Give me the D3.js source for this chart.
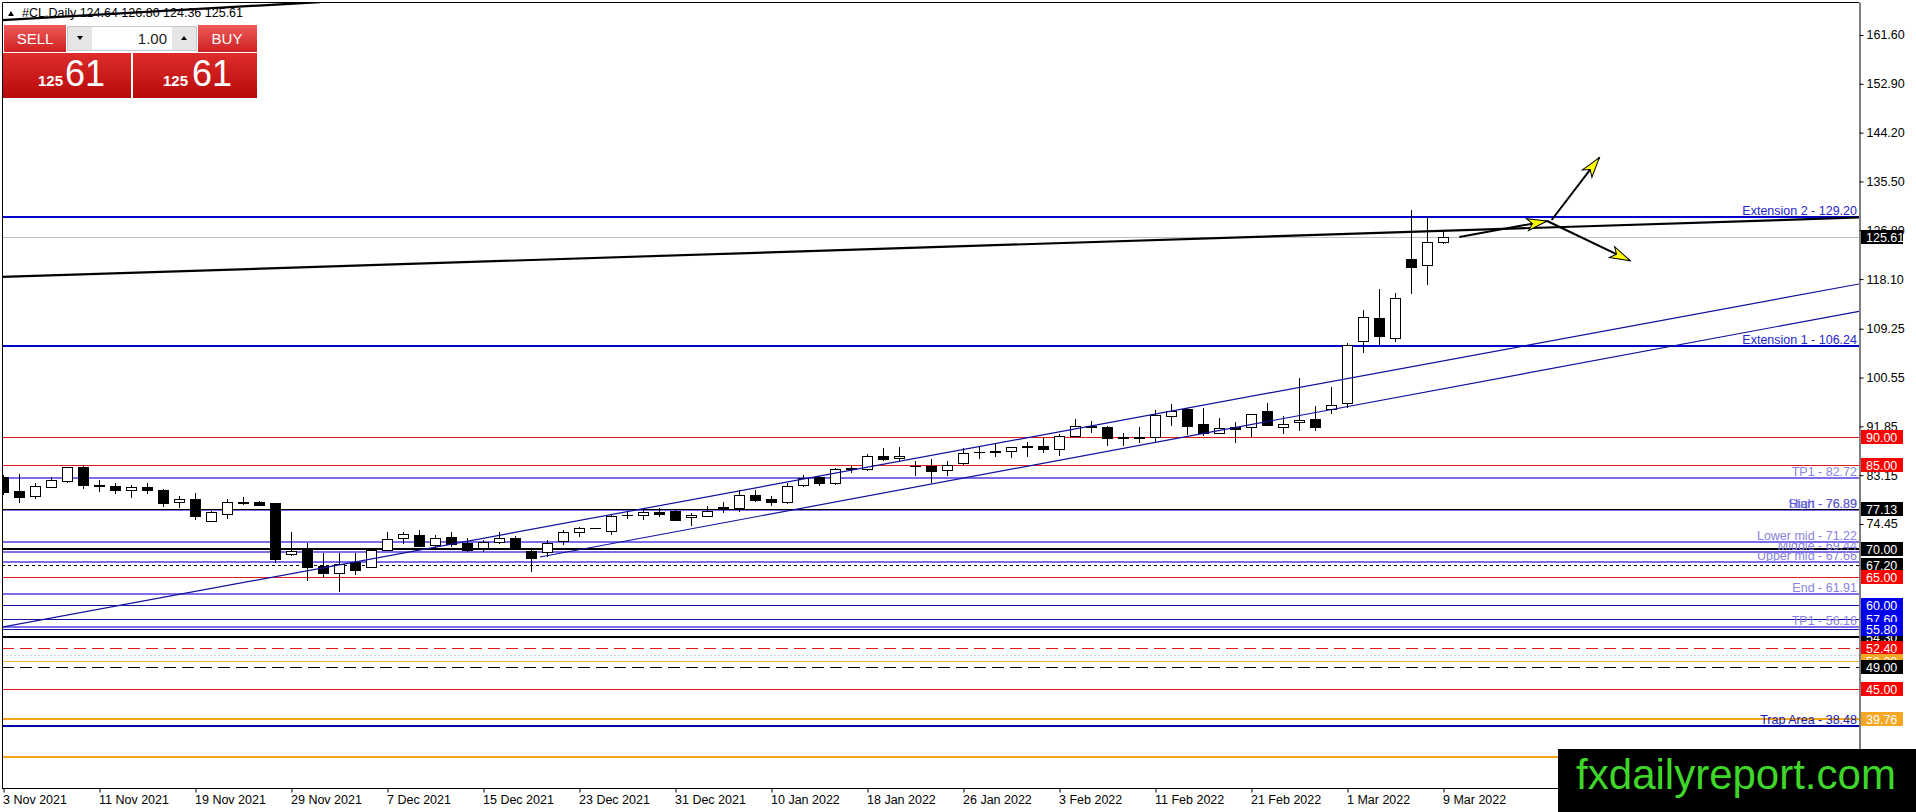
<!DOCTYPE html>
<html>
<head>
<meta charset="utf-8">
<script src="https://cdnjs.cloudflare.com/ajax/libs/d3/7.8.5/d3.min.js"></script>
<style>
body { margin: 0; background: #fff; }
svg { display: block; }
text { font-family: "Liberation Sans", Arial, sans-serif; }
</style>
</head>
<body>
<svg id="chart"></svg>
<script>
// daily bars, #CL
var dates = [
  "2021-11-03","2021-11-04","2021-11-05","2021-11-08","2021-11-09","2021-11-10","2021-11-11","2021-11-12",
  "2021-11-15","2021-11-16","2021-11-17","2021-11-18","2021-11-19","2021-11-22","2021-11-23","2021-11-24",
  "2021-11-25","2021-11-26","2021-11-29","2021-11-30","2021-12-01","2021-12-02","2021-12-03","2021-12-06",
  "2021-12-07","2021-12-08","2021-12-09","2021-12-10","2021-12-13","2021-12-14","2021-12-15","2021-12-16",
  "2021-12-17","2021-12-20","2021-12-21","2021-12-22","2021-12-23","2021-12-24","2021-12-27","2021-12-28",
  "2021-12-29","2021-12-30","2021-12-31","2022-01-03","2022-01-04","2022-01-05","2022-01-06","2022-01-07",
  "2022-01-10","2022-01-11","2022-01-12","2022-01-13","2022-01-14","2022-01-17","2022-01-18","2022-01-19",
  "2022-01-20","2022-01-21","2022-01-24","2022-01-25","2022-01-26","2022-01-27","2022-01-28","2022-01-31",
  "2022-02-01","2022-02-02","2022-02-03","2022-02-04","2022-02-07","2022-02-08","2022-02-09","2022-02-10",
  "2022-02-11","2022-02-14","2022-02-15","2022-02-16","2022-02-17","2022-02-18","2022-02-21","2022-02-22",
  "2022-02-23","2022-02-24","2022-02-25","2022-02-28","2022-03-01","2022-03-02","2022-03-03","2022-03-04",
  "2022-03-07","2022-03-08","2022-03-09"
];
var open = [
  82.77,80.33,79.50,81.10,81.99,84.55,81.35,81.22,80.57,81.10,80.51,78.25,78.90,75.05,76.35,78.30,
  78.37,78.13,69.05,70.06,66.97,65.66,67.62,66.85,69.82,71.90,72.50,70.60,72.08,71.13,70.30,71.13,
  71.90,69.70,69.35,71.30,72.97,73.60,73.27,75.95,75.94,76.59,76.77,75.64,75.94,77.30,77.24,79.62,
  78.90,78.31,81.28,82.77,81.70,84.37,84.19,86.57,86.09,84.85,84.79,84.19,85.26,87.20,87.46,87.34,
  88.35,88.35,87.93,90.13,91.92,91.68,90.01,89.90,90.01,93.76,94.94,92.21,90.73,91.80,91.68,94.59,
  91.68,92.57,93.13,94.91,95.98,107.01,111.10,107.66,121.60,120.54,124.64
];
var high = [
  83.20,83.36,81.82,82.88,84.60,84.90,82.29,81.82,81.34,81.82,80.75,79.50,79.92,76.80,78.85,79.20,
  78.50,78.25,73.03,71.12,69.34,69.34,69.34,70.20,73.09,73.09,73.40,72.50,72.97,71.90,71.60,72.97,
  72.30,70.12,71.60,73.30,73.98,73.75,76.06,76.65,77.24,77.24,76.95,76.47,77.66,78.43,80.51,80.51,
  79.44,81.70,83.18,83.00,84.37,84.79,87.00,87.99,88.11,85.74,86.03,85.68,87.93,88.35,88.71,88.23,
  89.12,89.72,90.43,93.16,92.81,91.92,90.61,91.68,94.77,95.78,95.06,95.06,93.28,92.63,94.05,96.07,
  93.69,100.55,95.50,98.88,106.77,112.53,116.27,115.67,130.33,129.14,126.80
];
var low = [
  79.60,78.25,78.90,80.90,81.70,80.75,80.10,79.74,79.14,79.80,77.54,77.24,75.16,74.87,75.28,77.84,
  77.72,67.44,68.75,64.35,64.77,62.39,65.36,66.60,69.60,70.88,70.40,70.10,70.41,69.50,69.50,70.89,
  69.94,65.96,68.50,70.70,72.20,73.55,72.50,75.34,75.17,75.76,75.05,74.10,75.76,76.47,76.65,78.43,
  77.66,78.10,81.10,81.22,81.40,83.48,83.95,85.74,85.56,83.00,81.70,83.00,84.96,86.03,86.45,86.15,
  86.45,87.04,86.57,90.00,90.73,88.35,88.35,88.94,89.12,91.92,90.31,90.13,90.49,88.94,90.01,91.92,
  90.49,91.05,91.05,94.02,95.09,104.99,106.36,106.95,115.38,116.98,124.36
];
var close = [
  80.03,79.32,81.22,82.29,84.55,81.28,81.20,80.51,81.04,80.51,78.13,78.85,75.88,76.65,78.43,78.40,
  77.90,68.15,69.64,66.85,65.66,67.26,66.13,69.82,71.72,72.60,70.60,71.90,70.89,69.82,71.30,71.90,
  70.12,68.51,71.01,72.97,73.68,73.68,75.88,76.00,76.53,76.30,75.17,76.06,76.77,77.50,79.62,78.73,
  78.43,81.22,82.59,81.70,84.25,84.13,86.57,86.09,86.51,84.80,83.95,85.02,87.04,87.25,87.22,88.11,
  88.11,87.87,90.19,91.86,91.68,89.66,89.78,90.00,93.87,94.65,91.92,90.55,91.62,91.44,94.05,92.09,
  92.27,92.98,91.64,95.68,106.30,111.34,107.84,114.78,120.12,124.63,125.61
];

var priceTicks = [161.60, 152.90, 144.20, 135.50, 126.80, 118.10, 109.25, 100.55, 91.85, 83.15, 74.45];
var dateTickIndex = d3.range(0, 91, 6);

// horizontal levels (array order = drawing order)
var levelPrices = [125.61, 129.20, 106.24, 90.00, 85.00, 82.72, 76.89, 76.89, 77.13, 71.22, 70.00, 69.44, 67.66,
                   67.20, 65.00, 61.91, 60.00, 57.60, 56.16, 54.30, 55.80, 52.40, 51.16, 50.00, 49.00, 45.00,
                   39.76, 38.48, 33.00];
var levelKinds = ["last", "ext", "ext", "red", "red", "fib", "fib", "fib2", "black", "fib", "black2", "fib", "fib",
                  "blackDash", "red", "fib", "blue", "blue", "fib", "black2", "blue", "redDash", "grayDot", "gold", "blackDash2", "red",
                  "orange", "trap", "orange"];
var levelNames = ["", "Extension 2 - 129.20", "Extension 1 - 106.24", "", "", "TP1 - 82.72", "Start - 76.89", "High - 76.89", "",
                  "Lower mid - 71.22", "", "Middle - 69.44", "Upper mid - 67.66", "", "", "End - 61.91", "", "", "TP1 - 56.16",
                  "", "", "", "", "", "", "", "", "Trap Area - 38.48", ""];

// trend lines: [bar1, price1, bar2, price2]
var channelLines = [[-0.22, 56.00, 115.97, 117.22], [33.53, 68.57, 115.97, 112.36]];
var blackLines = [[-0.22, 118.47, 115.97, 129.07], [-0.22, 164.24, 19.78, 167.47]];
var arrowLines = [[90.99, 125.60, 96.48, 128.45], [96.76, 128.63, 99.74, 139.73], [96.48, 128.45, 101.66, 121.38]];

var kindStyle = {
  last:       { stroke: "#c0c0c0", width: 1, box: "#000000" },
  ext:        { stroke: "#0000c8", width: 2, text: "#2626cf" },
  red:        { stroke: "#e01818", width: 1, box: "#ff0000" },
  fib:        { stroke: "#7b6ee8", width: 2, text: "#8a82e2" },
  fib2:       { stroke: "#7b6ee8", width: 2, text: "#5c5cd6" },
  black:      { stroke: "#000000", width: 1, box: "#000000" },
  black2:     { stroke: "#000000", width: 2, box: "#000000" },
  blackDash:  { stroke: "#000000", width: 1, dash: "3,3", box: "#000000" },
  blue:       { stroke: "#1414a0", width: 1, box: "#0000f0" },
  redDash:    { stroke: "#e01818", width: 1, dash: "12,6", box: "#ff0000" },
  grayDot:    { stroke: "#d2d2d2", width: 1, dash: "2,2" },
  gold:       { stroke: "#f0b43c", width: 1, box: "#f5a623" },
  blackDash2: { stroke: "#000000", width: 1, dash: "12,6", box: "#000000" },
  orange:     { stroke: "#f5a316", width: 2, box: "#f5a623" },
  trap:       { stroke: "#0000a0", width: 2, text: "#1a1ab0" }
};

var dimensions = { width: 1916, height: 812, left: 2, top: 2, right: 1859, bottom: 788 };

var svg = d3.select("#chart")
    .attr("width", dimensions.width)
    .attr("height", dimensions.height);

var xScale = d3.scaleLinear().domain([-0.22, 115.97]).range([0, dimensions.right]);
var yScale = d3.scaleLinear().domain([27.40, 167.48]).range([dimensions.bottom, dimensions.top]);

var parseDate = d3.timeParse("%Y-%m-%d");
var fmtDate = d3.timeFormat("%-d %b %Y");

var defs = svg.append("defs");
defs.append("clipPath").attr("id", "plotClip")
    .append("rect")
    .attr("x", dimensions.left).attr("y", dimensions.top)
    .attr("width", dimensions.right - dimensions.left)
    .attr("height", dimensions.bottom - dimensions.top);

defs.append("marker")
    .attr("id", "arrowHead")
    .attr("markerUnits", "userSpaceOnUse")
    .attr("viewBox", "-22 -8 24 16")
    .attr("refX", 0).attr("refY", 0)
    .attr("markerWidth", 24).attr("markerHeight", 16)
    .attr("orient", "auto")
    .append("path")
    .attr("d", "M0,0 L-20,-6 L-15,0 L-20,6 Z")
    .attr("fill", "#ffff00")
    .attr("stroke", "#000")
    .attr("stroke-width", 1);

function redGrad(id, top, bottom) {
  var g = defs.append("linearGradient").attr("id", id)
      .attr("x1", 0).attr("y1", 0).attr("x2", 0).attr("y2", 1);
  g.append("stop").attr("offset", "0%").attr("stop-color", top);
  g.append("stop").attr("offset", "100%").attr("stop-color", bottom);
}
redGrad("btnRed", "#ee5a5a", "#cf2020");
redGrad("boxRed", "#de2c2c", "#b80a0a");

var plot = svg.append("g").attr("clip-path", "url(#plotClip)");

// level lines
var levels = levelPrices.map(function(p, k) {
  return { price: p, kind: levelKinds[k], name: levelNames[k], style: kindStyle[levelKinds[k]] };
});

plot.selectAll("line.level")
    .data(levels)
    .join("line")
    .attr("class", "level")
    .attr("x1", dimensions.left)
    .attr("x2", dimensions.right)
    .attr("y1", d => Math.round(yScale(d.price)) + (d.style.width === 1 ? 0.5 : 0))
    .attr("y2", d => Math.round(yScale(d.price)) + (d.style.width === 1 ? 0.5 : 0))
    .attr("stroke", d => d.style.stroke)
    .attr("stroke-width", d => d.style.width)
    .attr("stroke-dasharray", d => d.style.dash || null);

plot.selectAll("text.level-name")
    .data(levels.filter(d => d.name !== ""))
    .join("text")
    .attr("class", "level-name")
    .attr("x", dimensions.right - 2)
    .attr("y", d => Math.round(yScale(d.price)) - 2)
    .attr("text-anchor", "end")
    .attr("font-size", "12.5px")
    .attr("fill", d => d.style.text)
    .text(d => d.name);

// candles
var bars = dates.map(function(d, i) {
  return { i: i, o: open[i], h: high[i], l: low[i], c: close[i] };
});

var candle = plot.selectAll("g.candle")
    .data(bars)
    .join("g")
    .attr("class", "candle")
    .attr("shape-rendering", "crispEdges");

candle.append("line")
    .attr("x1", d => Math.floor(xScale(d.i)) + 0.5)
    .attr("x2", d => Math.floor(xScale(d.i)) + 0.5)
    .attr("y1", d => yScale(d.h))
    .attr("y2", d => yScale(d.l))
    .attr("stroke", "#000")
    .attr("stroke-width", 1);

candle.append("rect")
    .attr("x", d => Math.floor(xScale(d.i)) - 4.5)
    .attr("width", 10)
    .attr("y", d => Math.round(yScale(Math.max(d.o, d.c))) + 0.5)
    .attr("height", d => Math.max(0.01, Math.round(Math.abs(yScale(d.o) - yScale(d.c)))))
    .attr("fill", d => d.c >= d.o ? "#fff" : "#000")
    .attr("stroke", "#000")
    .attr("stroke-width", 1);

// trend lines
plot.selectAll("line.channel")
    .data(channelLines)
    .join("line")
    .attr("class", "channel")
    .attr("x1", d => xScale(d[0])).attr("y1", d => yScale(d[1]))
    .attr("x2", d => xScale(d[2])).attr("y2", d => yScale(d[3]))
    .attr("stroke", "#10109c")
    .attr("stroke-width", 1.2);

plot.selectAll("line.black-trend")
    .data(blackLines)
    .join("line")
    .attr("class", "black-trend")
    .attr("x1", d => xScale(d[0])).attr("y1", d => yScale(d[1]))
    .attr("x2", d => xScale(d[2])).attr("y2", d => yScale(d[3]))
    .attr("stroke", "#000")
    .attr("stroke-width", 2.2);

plot.selectAll("line.arrow")
    .data(arrowLines)
    .join("line")
    .attr("class", "arrow")
    .attr("x1", d => xScale(d[0])).attr("y1", d => yScale(d[1]))
    .attr("x2", d => xScale(d[2])).attr("y2", d => yScale(d[3]))
    .attr("stroke", "#000")
    .attr("stroke-width", 2)
    .attr("marker-end", "url(#arrowHead)");

// frame
svg.append("path")
    .attr("d", `M${dimensions.left + 0.5},${dimensions.bottom} V${dimensions.top + 0.5} H${dimensions.right}`)
    .attr("fill", "none")
    .attr("stroke", "#000")
    .attr("stroke-width", 1);

// price axis
var yAxisGen = d3.axisRight(yScale)
    .tickValues(priceTicks)
    .tickFormat(d3.format(".2f"))
    .tickSize(4)
    .tickSizeOuter(0);
var yAxis = svg.append("g")
    .attr("transform", `translate(${dimensions.right + 0.5},0)`)
    .call(yAxisGen);
yAxis.selectAll("text").attr("font-size", "12.5px").attr("fill", "#000")
    .style("font-family", "'Liberation Sans', Arial, sans-serif");
yAxis.select(".domain").attr("stroke", "#000");

// time axis
var xAxisGen = d3.axisBottom(xScale)
    .tickValues(dateTickIndex)
    .tickFormat(i => fmtDate(parseDate(dates[i])))
    .tickSize(4)
    .tickSizeOuter(0);
var xAxis = svg.append("g")
    .attr("transform", `translate(0,${dimensions.bottom + 0.5})`)
    .call(xAxisGen);
xAxis.selectAll("text")
    .attr("font-size", "12.5px")
    .attr("fill", "#000")
    .attr("text-anchor", "start")
    .attr("x", -1)
    .style("font-family", "'Liberation Sans', Arial, sans-serif");
xAxis.select(".domain").attr("d", `M${dimensions.left},0H${dimensions.right}`);

// price boxes on the axis
var boxed = levels.filter(d => d.style.box);
var box = svg.selectAll("g.price-box")
    .data(boxed)
    .join("g")
    .attr("class", "price-box")
    .attr("transform", d => `translate(${dimensions.right + 2},${Math.round(yScale(d.price))})`);
box.append("rect")
    .attr("x", 0).attr("y", -7)
    .attr("width", 42).attr("height", 14)
    .attr("fill", d => d.style.box);
box.append("text")
    .attr("x", 5).attr("y", 0).attr("dy", "0.36em")
    .attr("font-size", "12.5px")
    .attr("fill", "#fff")
    .text(d => d3.format(".2f")(d.price));

// header
svg.append("path").attr("d", "M8,16 L14,16 L11,11 Z").attr("fill", "#000");
svg.append("text")
    .attr("x", 22).attr("y", 17)
    .attr("font-size", "12.5px")
    .attr("fill", "#000")
    .text("#CL,Daily  " + [open[90], high[90], low[90], close[90]].map(d3.format(".2f")).join(" "));

// one-click trading panel
var panel = svg.append("g").attr("class", "trade-panel");
panel.append("rect").attr("x", 3).attr("y", 24).attr("width", 255).attr("height", 75).attr("fill", "#fff");
panel.append("rect").attr("x", 4).attr("y", 25).attr("width", 62).attr("height", 27).attr("fill", "url(#btnRed)");
panel.append("rect").attr("x", 198).attr("y", 25).attr("width", 59).attr("height", 27).attr("fill", "url(#btnRed)");
panel.append("text").attr("x", 35).attr("y", 44).attr("text-anchor", "middle")
    .attr("font-size", "15px").attr("fill", "#fff").text("SELL");
panel.append("text").attr("x", 227).attr("y", 44).attr("text-anchor", "middle")
    .attr("font-size", "15px").attr("fill", "#fff").text("BUY");
panel.append("rect").attr("x", 67.5).attr("y", 26.5).attr("width", 129).attr("height", 24)
    .attr("fill", "#fff").attr("stroke", "#c8c8c8");
panel.append("rect").attr("x", 68).attr("y", 27).attr("width", 24).attr("height", 23).attr("fill", "#e6e6e6");
panel.append("rect").attr("x", 172).attr("y", 27).attr("width", 24).attr("height", 23).attr("fill", "#e6e6e6");
panel.append("path").attr("d", "M77,36 L83,36 L80,40 Z").attr("fill", "#000");
panel.append("path").attr("d", "M181,40 L187,40 L184,36 Z").attr("fill", "#000");
panel.append("text").attr("x", 167).attr("y", 44).attr("text-anchor", "end")
    .attr("font-size", "15px").attr("fill", "#222").text("1.00");
panel.append("rect").attr("x", 3).attr("y", 53).attr("width", 128).attr("height", 45).attr("fill", "url(#boxRed)");
panel.append("rect").attr("x", 133).attr("y", 53).attr("width", 124).attr("height", 45).attr("fill", "url(#boxRed)");

var quote = d3.format(".2f")(close[90]).split(".");
[[38, 65], [163, 192]].forEach(function(pos) {
  panel.append("text").attr("x", pos[0]).attr("y", 86)
      .attr("font-size", "15px").attr("font-weight", "bold").attr("fill", "#fff").text(quote[0]);
  panel.append("text").attr("x", pos[1]).attr("y", 86)
      .attr("font-size", "36px").attr("fill", "#fff").text(quote[1]);
});

// watermark
svg.append("rect").attr("x", 1558).attr("y", 749).attr("width", 358).attr("height", 63).attr("fill", "#000");
svg.append("text")
    .attr("x", 1736).attr("y", 789)
    .attr("text-anchor", "middle")
    .attr("font-size", "42px")
    .attr("fill", "#3fd62a")
    .text("fxdailyreport.com");
</script>
</body>
</html>
